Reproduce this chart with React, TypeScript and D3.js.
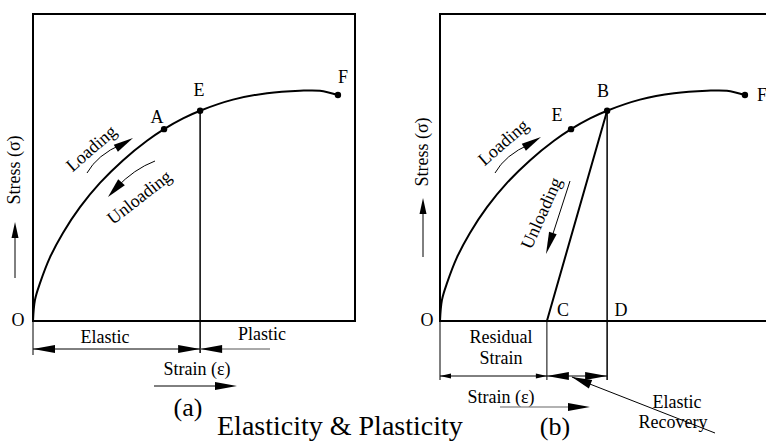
import * as d3 from 'd3';

// stress-strain curve (strain %, stress %)
const strain = [0, 0.6, 2.2, 5.3, 9.3, 14.6, 20.8, 28.0, 35.4, 40.7, 46.6, 51.9, 62.1, 72.7, 82.9, 89.1, 94.7];
const stress = [0, 6.8, 12.4, 20.8, 28.7, 37.1, 45.0, 52.4, 58.7, 62.5, 66.0, 68.5, 72.1, 74.2, 75.0, 75.0, 73.6];

const markIdx = [9, 11, 16];
const labelsA = ['A', 'E', 'F'];
const labelsB = ['E', 'B', 'F'];
const residualStrain = 33.2;

const W = 766;
const H = 441;
const FONT = '"Liberation Serif", "Times New Roman", serif';

const y = d3.scaleLinear().domain([0, 100]).range([321, 14]);
const xA = d3.scaleLinear().domain([0, 100]).range([33, 355]);
const xB = d3.scaleLinear().domain([0, 100]).range([440, 762]);

const pts = strain.map((s, i) => [s, stress[i]] as [number, number]);

// filled arrow head, tip at (x,y) pointing along angle a
function head(x: number, yy: number, a: number, len = 22, hw = 4) {
  const bx = x - Math.cos(a) * len;
  const by = yy - Math.sin(a) * len;
  const nx = -Math.sin(a) * hw;
  const ny = Math.cos(a) * hw;
  return `${x},${yy} ${bx + nx},${by + ny} ${bx - nx},${by - ny}`;
}

const Txt = ({ x, y, children, size = 18, anchor = 'middle', rot = 0, dy = '0' }: any) => (
  <text
    transform={`translate(${x},${y}) rotate(${rot})`}
    dy={dy}
    textAnchor={anchor}
    fontFamily={FONT}
    fontSize={size}
    fill="#000"
  >
    {children}
  </text>
);

// label offsets from their dots
const offA = [[-7, -6, 'middle'], [-1, -15, 'middle'], [5, -12, 'middle']];
const offB = [[-14, -8, 'middle'], [-4, -14, 'middle'], [12, 6, 'start']];

export default function App() {
  const lineA = d3.line<[number, number]>().x(d => xA(d[0])).y(d => y(d[1])).curve(d3.curveCatmullRom);
  const lineB = d3.line<[number, number]>().x(d => xB(d[0])).y(d => y(d[1])).curve(d3.curveCatmullRom);

  const O = y(0);
  const eA = pts[11];
  const ex = xA(eA[0]);
  const ey = y(eA[1]);
  const bx = xB(eA[0]);
  const by = y(eA[1]);
  const cx = xB(residualStrain);
  const oB = xB(0);

  const dimA = 349;
  const dimB = 376;

  const lead = { x1: 715, y1: 433, x2: cx + 25, y2: 377 };
  const leadAng = Math.atan2(lead.y2 - lead.y1, lead.x2 - lead.x1);

  return (
    <svg width={W} height={H} style={{ display: 'block', position: 'absolute', left: 0, top: 0 }}>
      <style>{`body{margin:0}`}</style>
      <rect width={W} height={H} fill="#fff" />

      {/* ---------- panel (a) ---------- */}
      <rect x={xA(0)} y={y(100)} width={xA(100) - xA(0)} height={O - y(100)} fill="none" stroke="#000" strokeWidth={2} />
      <path d={lineA(pts) || ''} fill="none" stroke="#000" strokeWidth={2} />
      {markIdx.map((i, k) => (
        <g key={k}>
          <circle cx={xA(pts[i][0])} cy={y(pts[i][1])} r={3.2} fill="#000" />
          <Txt x={xA(pts[i][0]) + (offA[k][0] as number)} y={y(pts[i][1]) + (offA[k][1] as number)} anchor={offA[k][2]}>
            {labelsA[k]}
          </Txt>
        </g>
      ))}
      <line x1={ex} x2={ex} y1={ey} y2={353} stroke="#000" strokeWidth={1.5} />
      <line x1={xA(0)} x2={xA(0)} y1={O} y2={355} stroke="#000" strokeWidth={1} />
      <line x1={xA(0)} x2={ex} y1={dimA} y2={dimA} stroke="#000" strokeWidth={1} />
      <polygon points={head(xA(0), dimA, Math.PI)} fill="#000" />
      <polygon points={head(ex, dimA, 0)} fill="#000" />
      <line x1={ex} x2={270} y1={dimA} y2={dimA} stroke="#555" strokeWidth={1} />
      <polygon points={head(ex, dimA, Math.PI)} fill="#000" />

      <Txt x={105} y={343}>Elastic</Txt>
      <Txt x={262} y={340}>Plastic</Txt>
      <Txt x={197} y={375}>Strain (ε)</Txt>
      <line x1={154} x2={230} y1={386} y2={386} stroke="#000" strokeWidth={1} />
      <polygon points={head(237, 386, 0)} fill="#000" />
      <Txt x={188} y={416} size={26}>(a)</Txt>
      <Txt x={18} y={326}>O</Txt>
      <Txt x={20} y={170} rot={-90}>Stress (σ)</Txt>
      <line x1={15} x2={15} y1={278} y2={230} stroke="#000" strokeWidth={1} />
      <polygon points={head(15, 222, -Math.PI / 2, 16, 3.5)} fill="#000" />

      <Txt x={91} y={148} rot={-41} dy=".35em">Loading</Txt>
      <path d="M87,173 Q97,155 122,144" fill="none" stroke="#000" strokeWidth={1} />
      <polygon points={head(133, 138, Math.atan2(-12, 20), 20, 4)} fill="#000" />
      <Txt x={139} y={197} rot={-38} dy=".35em">Unloading</Txt>
      <path d="M155,161 Q134,169 116,188" fill="none" stroke="#000" strokeWidth={1} />
      <polygon points={head(108, 197, Math.atan2(60, -55), 20, 4.5)} fill="#000" />

      {/* ---------- panel (b) ---------- */}
      <path d={`M${W},${y(100)} H${oB} V${O} H${W}`} fill="none" stroke="#000" strokeWidth={2} />
      <path d={(lineB(pts) || '') + `M${bx},${by} L${cx},${O}`} fill="none" stroke="#000" strokeWidth={2} />
      {markIdx.map((i, k) => (
        <g key={k}>
          <circle cx={xB(pts[i][0])} cy={y(pts[i][1])} r={3.2} fill="#000" />
          <Txt x={xB(pts[i][0]) + (offB[k][0] as number)} y={y(pts[i][1]) + (offB[k][1] as number)} anchor={offB[k][2]}>
            {labelsB[k]}
          </Txt>
        </g>
      ))}
      <line x1={bx} x2={bx} y1={by} y2={380} stroke="#000" strokeWidth={1.5} />
      <line x1={cx} x2={cx} y1={O} y2={380} stroke="#000" strokeWidth={1} />
      <line x1={oB} x2={oB} y1={O} y2={380} stroke="#000" strokeWidth={1} />
      <line x1={oB} x2={bx} y1={dimB} y2={dimB} stroke="#000" strokeWidth={1} />
      <polygon points={head(oB, dimB, Math.PI, 11, 2.5)} fill="#000" />
      <polygon points={head(cx, dimB, 0, 11, 2.5)} fill="#000" />
      <polygon points={head(cx, dimB, Math.PI, 22, 4)} fill="#000" />
      <polygon points={head(bx, dimB, 0, 22, 4)} fill="#000" />
      <line x1={lead.x1} y1={lead.y1} x2={lead.x2} y2={lead.y2} stroke="#000" strokeWidth={1} />
      <polygon points={head(lead.x2, lead.y2, leadAng, 20, 4.5)} fill="#000" />

      <Txt x={563} y={316}>C</Txt>
      <Txt x={621} y={316}>D</Txt>
      <Txt x={427} y={326}>O</Txt>
      <Txt x={501} y={343}>Residual</Txt>
      <Txt x={501} y={364}>Strain</Txt>
      <Txt x={501} y={403}>Strain (ε)</Txt>
      <line x1={500} x2={580} y1={407} y2={407} stroke="#666" strokeWidth={1.2} />
      <polygon points={head(590, 407, 0)} fill="#000" />
      <Txt x={677} y={408}>Elastic</Txt>
      <Txt x={673} y={428}>Recovery</Txt>
      <Txt x={555} y={435} size={26}>(b)</Txt>
      <Txt x={428} y={152} rot={-90}>Stress (σ)</Txt>
      <line x1={423} x2={423} y1={257} y2={206} stroke="#000" strokeWidth={1} />
      <polygon points={head(423, 198, -Math.PI / 2, 16, 3.5)} fill="#000" />
      <Txt x={503} y={142} rot={-41} dy=".35em">Loading</Txt>
      <path d="M495,173 Q505,155 530,144" fill="none" stroke="#000" strokeWidth={1} />
      <polygon points={head(541, 137, Math.atan2(-12, 20), 20, 4)} fill="#000" />
      <Txt x={541} y={213} rot={-66} dy=".35em">Unloading</Txt>
      <line x1={570} y1={181} x2={549} y2={246} stroke="#000" strokeWidth={1} />
      <polygon points={head(546, 254, Math.atan2(73, -24), 22, 4)} fill="#000" />

      <Txt x={217} y={435} size={28} anchor="start">Elasticity &amp; Plasticity</Txt>
    </svg>
  );
}
